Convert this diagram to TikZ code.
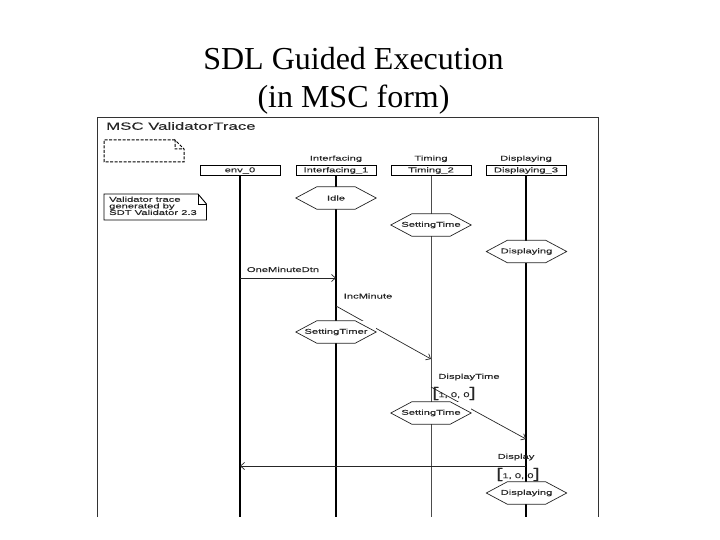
\documentclass[tikz,border=0pt]{standalone}
\usepackage{fontspec}
\setmainfont{Liberation Serif}
\newfontfamily\mscfont[FakeStretch=1.6,FakeBold=0.25]{Liberation Sans}
\usetikzlibrary{positioning,calc,arrows.meta}
\tikzset{
    msctext/.style={inner sep=0pt, text=black!85, font=\mscfont\fontsize{7}{7}\selectfont},
    headbox/.style={draw, rectangle, fill=white, line width=1pt, minimum width=80pt, minimum height=9.5pt, msctext},
    statebox/.style={rectangle, fill=white, minimum width=80pt, minimum height=22pt, msctext},
    hexline/.style={line width=0.7pt, black!85},
    msgline/.style={-{Straight Barb[length=4pt,width=7pt]}, line width=0.7pt, black!85},
    lifeline/.style={line width=1.2pt}
}
\newcommand{\statehex}[4]{
    \node[statebox] (#1) at (#2,#3) {#4};
    \draw[hexline] (#1.west) -- ([xshift=21pt]#1.north west) -- ([xshift=-21pt]#1.north east) -- (#1.east)
        -- ([xshift=-21pt]#1.south east) -- ([xshift=21pt]#1.south west) -- cycle;
}
\newcommand{\valuetext}{{\fontsize{14}{14}\selectfont[}1, 0, 0{\fontsize{14}{14}\selectfont]}}
\begin{document}
\begin{tikzpicture}[x=1pt, y=-1pt]
        \useasboundingbox (0,0) rectangle (720,540);
        \node[align=center, inner sep=0pt, font=\fontsize{32}{38}\selectfont] (title) at (353.5,80.5) {SDL Guided Execution\\(in MSC form)};

        \draw[line width=0.9pt, black!80] (97,517) -- (97,117) -- (598.5,117) -- (598.5,517);
        \node[msctext, anchor=west, font=\mscfont\fontsize{10.5}{10.5}\selectfont] (msctitle) at (106,126) {MSC ValidatorTrace};

        \draw[line width=1pt, dashed, dash pattern=on 3pt off 1.5pt] (175,140) -- (104,140) -- (104,162) -- (184,162) -- (184,149) -- (175,140) -- (175,149) -- (184,149);

        \draw[line width=0.9pt, fill=white] (104,194) -- (198,194) -- (206.5,204) -- (206.5,220) -- (104,220) -- cycle;
        \draw[line width=0.7pt] (198,194) -- (198,204) -- (206.5,204);
        \node[msctext, anchor=north west, align=left, font=\mscfont\fontsize{7}{6.6}\selectfont] (note) at (109,196.5) {Validator trace\\generated by\\SDT Validator 2.3};

        \node[headbox] (env) at (240,170.5) {env\_0};
        \node[headbox] (interfacing) at (336,170.5) {Interfacing\_1};
        \node[headbox] (timing) at (431,170.5) {Timing\_2};
        \node[headbox] (displaying) at (526,170.5) {Displaying\_3};
        \node[msctext, above=3pt of interfacing] (interfacinglabel) {Interfacing};
        \node[msctext, above=3pt of timing] (timinglabel) {Timing};
        \node[msctext, above=3pt of displaying] (displayinglabel) {Displaying};

        \coordinate (envend) at (240,517);
        \coordinate (interfacingend) at (336,517);
        \coordinate (timingend) at (431,517);
        \coordinate (displayingend) at (526,517);
        \draw[lifeline] (env) -- (envend);
        \draw[lifeline] (interfacing) -- (interfacingend);
        \draw[lifeline, line width=0.8pt, black!70] (timing) -- (timingend);
        \draw[lifeline, line width=2.2pt] (displaying) -- (displayingend);

        \coordinate (dtnstart) at (240,278);
        \coordinate (dtnend) at (336,278);
        \coordinate (incstart) at (336,306);
        \coordinate (incend) at (431,359);
        \coordinate (timestart) at (431,387);
        \coordinate (timeend) at (526,439);
        \coordinate (dispstart) at (526,466);
        \coordinate (dispend) at (240,466);
        \draw[msgline] (dtnstart) -- (dtnend);
        \draw[msgline] (incstart) -- (incend);
        \draw[msgline] (timestart) -- (timeend);
        \draw[msgline] (dispstart) -- (dispend);

        \node[msctext] (dtnlabel) at (283,269.5) {OneMinuteDtn};
        \node[msctext] (inclabel) at (368,296) {IncMinute};
        \node[msctext] (timelabel) at (469,377) {DisplayTime};
        \node[msctext] (displabel) at (516,457) {Display};
        \node[msctext] (timevalue) at (454,393.5) {\valuetext};
        \node[msctext] (dispvalue) at (518,474.5) {\valuetext};

        \statehex{idle}{336}{198}{Idle}
        \statehex{settime}{431}{225}{SettingTime}
        \statehex{dispstate}{526.5}{251.5}{Displaying}
        \statehex{settimer}{336}{332}{SettingTimer}
        \statehex{settimeb}{431}{413}{SettingTime}
        \statehex{dispstateb}{526.5}{493}{Displaying}
    \end{tikzpicture}
\end{document}
